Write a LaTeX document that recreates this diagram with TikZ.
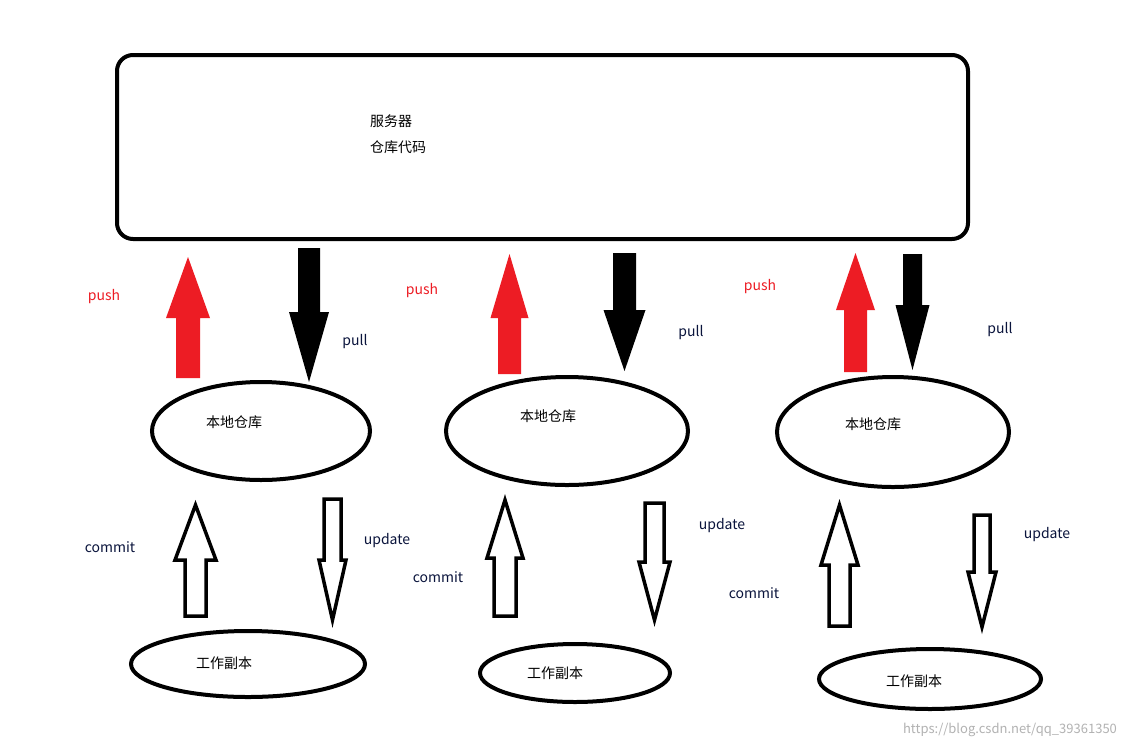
\documentclass[tikz,border=0pt]{standalone}
\usepackage{fontspec}
\setmainfont{Noto Sans CJK SC}
\definecolor{pushred}{RGB}{237,28,36}
\definecolor{lbl}{RGB}{10,20,60}
\newcommand{\blkarrow}[7]{% style, cx, shaft half, start y, head half, base y, tip y
  \draw[#1] (#2-#3,#4) -- (#2-#3,#6) -- (#2-#5,#6) -- (#2,#7) -- (#2+#5,#6) -- (#2+#3,#6) -- (#2+#3,#4) -- cycle;}
\begin{document}
\begin{tikzpicture}[x=1pt,y=-1pt,
  edge/.style={line width=4pt},
  thin/.style={line width=3.5pt, line join=miter},
  txt/.style={font=\fontsize{14}{16}\selectfont, inner sep=0pt},
  red/.style={fill=pushred, draw=none},
  blk/.style={fill=black, draw=none},
  hol/.style={draw=black, line width=3.5pt, fill=white}]
\useasboundingbox (0,0) rectangle (1141,748);
\fill[white] (0,0) rectangle (1141,748);
\draw[edge, rounded corners=16pt] (117,55) rectangle (968,239);
\node[txt, anchor=west] (srv1) at (370,121) {服务器};
\node[txt, anchor=west] (srv2) at (370,147) {仓库代码};
% red push arrows
\blkarrow{red}{188}{12}{378}{22}{318}{257}
\blkarrow{red}{509.5}{11.5}{374}{19}{318}{254}
\blkarrow{red}{855.5}{11.5}{372}{19.5}{310}{253}
% black pull arrows
\blkarrow{blk}{309}{11}{248}{20}{312}{382}
\blkarrow{blk}{624.5}{11.5}{253}{21}{310}{371}
\blkarrow{blk}{912.5}{9.5}{254}{17}{305}{370}
\foreach \x/\y in {104/297,422/291,760/287} \node[txt, text=pushred] at (\x,\y) {push};
\foreach \x/\y in {355/342,691/333,1000/330} \node[txt, text=lbl] at (\x,\y) {pull};
% local repos
\draw[edge] (261,431) ellipse [x radius=109, y radius=49];
\draw[edge] (567,431) ellipse [x radius=121, y radius=54];
\draw[edge] (893,432) ellipse [x radius=116, y radius=55];
\node[txt] (l1) at (234,422) {本地仓库};
\node[txt] (l2) at (548,416) {本地仓库};
\node[txt] (l3) at (873,424) {本地仓库};
% commit arrows
\blkarrow{hol}{195.5}{10.5}{616}{20.5}{560}{505}
\blkarrow{hol}{505}{11}{616}{18}{558}{500}
\blkarrow{hol}{839.5}{10.5}{626}{18.5}{565}{505}
% update arrows
\blkarrow{hol}{332.5}{8.5}{499}{13.5}{560}{620}
\blkarrow{hol}{654.5}{9.5}{503}{15.5}{562}{620}
\blkarrow{hol}{982}{8}{515}{14}{572}{627}
\foreach \x/\y in {110/547,438/577,754/593} \node[txt, text=lbl] at (\x,\y) {commit};
\foreach \x/\y in {387/541,722/526,1047/535} \node[txt, text=lbl] at (\x,\y) {update};
% working copies
\draw[edge] (248,664) ellipse [x radius=117, y radius=33];
\draw[edge] (575,673) ellipse [x radius=95, y radius=29];
\draw[edge] (930,679) ellipse [x radius=111, y radius=30];
\node[txt] (w1) at (224,663) {工作副本};
\node[txt] (w2) at (555,673) {工作副本};
\node[txt] (w3) at (914,681) {工作副本};
\node[txt, text=gray!60, font=\fontsize{13}{15}\selectfont] (wm) at (1010,730) {https://blog.csdn.net/qq\_39361350};
\end{tikzpicture}
\end{document}
